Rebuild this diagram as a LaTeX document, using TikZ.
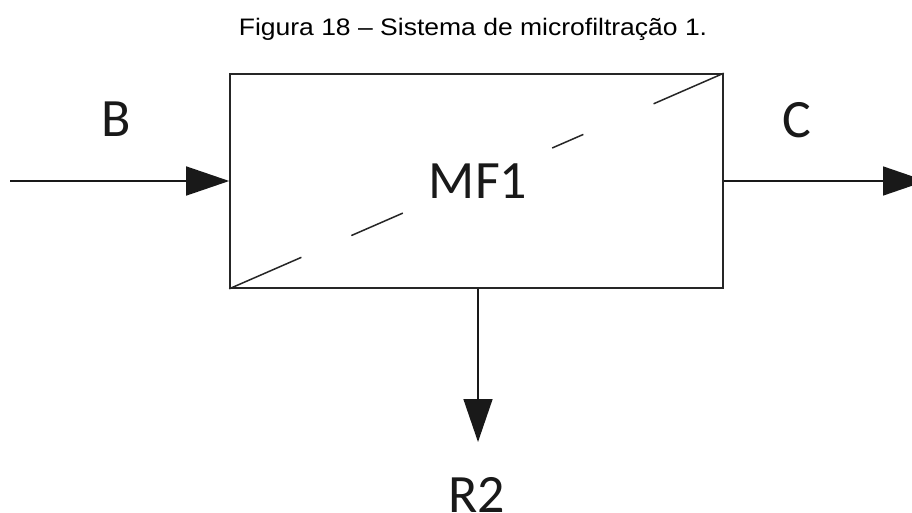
\documentclass[tikz,border=0pt]{standalone}
\usepackage{fontspec}
\setmainfont{Carlito}
\newfontfamily\titlefont{Liberation Sans}
\usetikzlibrary{arrows.meta,calc}

\tikzset{
  unitbox/.style={draw=black!85, line width=1.6pt, minimum width=493pt, minimum height=214pt, inner sep=0pt},
  flow/.style={draw=black!90, line width=1.5pt, -{Triangle[length=43pt,width=29pt]}},
  membrane/.style={draw=black!85, line width=1.5pt},
  streamlabel/.style={font=\fontsize{54}{60}\selectfont, anchor=base, inner sep=0pt, text=black!90},
  caption/.style={font=\titlefont\fontsize{26.5}{30}\selectfont, anchor=base, inner sep=0pt}
}

\begin{document}
\begin{tikzpicture}[x=1pt,y=-1pt]
  \clip (0,0) rectangle (912,513);
  \fill[white] (0,0) rectangle (912,513);

  % caption
  \node[caption] (title) at (473,36) {\scalebox{1}[0.9]{Figura 18 – Sistema de microfiltração 1.}};

  % microfiltration unit
  \node[unitbox] (mf) at (476.5,181) {};
  \node[streamlabel] (mflabel) at (478,198) {MF1};

  % membrane drawn as a broken diagonal
  \draw[membrane] ($(mf.south west)!0!(mf.north east)$) -- ($(mf.south west)!0.146!(mf.north east)$);
  \draw[membrane] ($(mf.south west)!0.247!(mf.north east)$) -- ($(mf.south west)!0.351!(mf.north east)$);
  \draw[membrane] ($(mf.south west)!0.653!(mf.north east)$) -- ($(mf.south west)!0.716!(mf.north east)$);
  \draw[membrane] ($(mf.south west)!0.858!(mf.north east)$) -- ($(mf.south west)!1!(mf.north east)$);

  % streams
  \coordinate (feed) at (10,181);
  \coordinate (perm) at (926,181);
  \coordinate (ret) at (478,442);
  \draw[flow] (feed) -- (mf.west);
  \draw[flow] (mf.east) -- (perm);
  \draw[flow] (mf.south -| ret) -- (ret);

  % stream labels
  \node[streamlabel] (lb) at (116,137) {B};
  \node[streamlabel] (lc) at (797,138) {C};
  \node[streamlabel] (lr) at (477,512) {R2};
\end{tikzpicture}
\end{document}
